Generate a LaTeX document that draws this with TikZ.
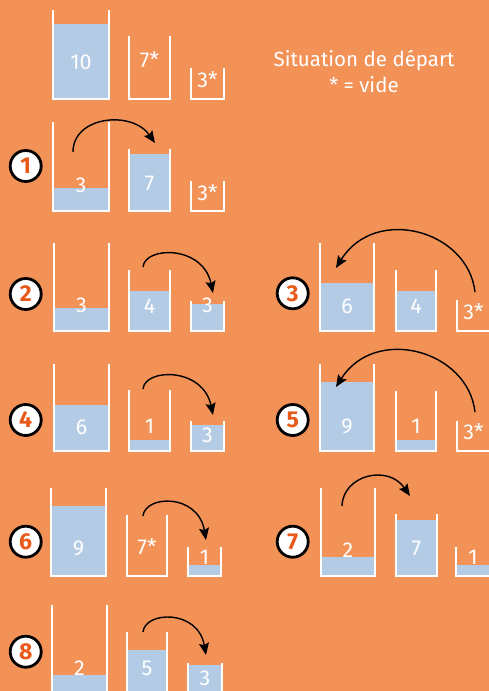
\documentclass[tikz,border=0pt]{standalone}
\usepackage{fontspec}
\setmainfont{Fira Sans}
\usepackage{tikz}
\usetikzlibrary{arrows.meta}
\definecolor{bgorange}{HTML}{F39257}
\definecolor{waterblue}{HTML}{B4CBE6}
\definecolor{steporange}{HTML}{E8591A}

\tikzset{
  wall/.style={white, line width=2.6pt},
  water/.style={fill=waterblue},
  num/.style={text=white, inner sep=0pt, font=\fontsize{21.5}{21.5}\selectfont},
  title/.style={text=white, inner sep=0pt, font=\fontsize{20.5}{20.5}\selectfont},
  stepno/.style={circle, draw=black, fill=white, line width=2.8pt, minimum size=31pt, inner sep=0pt,
    text=steporange, font=\bfseries\fontsize{23}{23}\selectfont},
  pour/.style={black, line width=1.4pt, -{Stealth[length=12pt,width=10pt,inset=2pt]}}
}

% jug: name, left, right, top, bottom, level, label y, label
\newcommand{\jug}[8]{%
  \fill[water] (#2,#6) rectangle (#3,#5);
  \draw[wall] (#2,#4) -- (#2,#5) -- (#3,#5) -- (#3,#4);
  \node[num] (#1) at ({(#2+#3)/2},#7) {#8};
}

\begin{document}
\begin{tikzpicture}[x=1pt, y=-1pt]
\useasboundingbox (0,0) rectangle (489,691);
\fill[bgorange] (0,0) rectangle (489,691);

% start
\jug{a1}{53}{109}{10}{99}{24}{62}{10}
\jug{a2}{129}{170}{36}{99}{99}{60}{7*}
\jug{a3}{191}{224}{68}{99}{99}{80}{3*}
\node[title, anchor=base] (title) at (364,66.7) {Situation de départ};
\node[title, anchor=base] (legend) at (364,92.3) {* = vide};

% step 1
\node[stepno] (s1) at (25.7,166) {1};
\jug{b1}{53}{109}{122}{211}{188}{185}{3}
\jug{b2}{129}{170}{149}{211}{154}{183}{7}
\jug{b3}{191}{224}{181}{211}{211}{193}{3*}
\coordinate (p1) at (73,152);
\coordinate (q1) at (155,143);
\draw[pour] (p1) .. controls (73,116) and (132,110) .. (q1);

% step 2
\node[stepno] (s2) at (25.7,294) {2};
\jug{c1}{54}{109}{243}{331}{308}{305}{3}
\jug{c2}{129}{170}{270}{331}{291}{306}{4}
\jug{c3}{191}{224}{301}{331}{304}{305}{3}
\coordinate (p2) at (143,267);
\coordinate (q2) at (213,293);
\draw[pour] (p2) .. controls (145,246) and (203,245) .. (q2);

% step 3
\node[stepno] (s3) at (292.7,293.3) {3};
\jug{d1}{320}{374}{243}{331}{283}{306}{6}
\jug{d2}{396}{436}{270}{331}{291}{306}{4}
\jug{d3}{457}{490}{300}{331}{331}{312}{3*}
\coordinate (p3) at (475,292);
\coordinate (q3) at (336,268);
\draw[pour] (p3) .. controls (468,230) and (375,205) .. (q3);

% step 4
\node[stepno] (s4) at (25.7,420) {4};
\jug{e1}{54}{109}{364}{451}{405}{427}{6}
\jug{e2}{129}{170}{390}{451}{440}{426}{1}
\jug{e3}{191}{224}{421}{451}{425}{435}{3}
\coordinate (p4) at (143,389);
\coordinate (q4) at (213,415);
\draw[pour] (p4) .. controls (145,368) and (203,367) .. (q4);

% step 5
\node[stepno] (s5) at (292.7,420) {5};
\jug{f1}{320}{374}{364}{451}{382}{426}{9}
\jug{f2}{396}{436}{391}{451}{440}{426}{1}
\jug{f3}{457}{490}{421}{451}{451}{432}{3*}
\coordinate (p5) at (475,412);
\coordinate (q5) at (336,387);
\draw[pour] (p5) .. controls (468,350) and (375,325) .. (q5);

% step 6
\node[stepno] (s6) at (25.7,541.7) {6};
\jug{g1}{51}{106}{488}{576}{506}{548}{9}
\jug{g2}{127}{167}{515}{576}{576}{547}{7*}
\jug{g3}{188}{221}{547}{576}{565}{557}{1}
\coordinate (p6) at (143,516);
\coordinate (q6) at (206,540);
\draw[pour] (p6) .. controls (145,495) and (198,493) .. (q6);

% step 7
\node[stepno] (s7) at (292.7,541.7) {7};
\jug{h1}{321}{375}{488}{576}{557}{550}{2}
\jug{h2}{396}{437}{514}{576}{520}{548}{7}
\jug{h3}{456}{490}{547}{576}{565}{557}{1}
\coordinate (p7) at (342,506);
\coordinate (q7) at (410,496);
\draw[pour] (p7) .. controls (343,475) and (388,464) .. (q7);

% step 8
\node[stepno] (s8) at (25.7,651.7) {8};
\jug{k1}{52}{107}{605}{694}{675}{668}{2}
\jug{k2}{127}{167}{632}{694}{650}{668}{5}
\jug{k3}{188}{222}{663}{694}{665}{678}{3}
\coordinate (p8) at (143,632);
\coordinate (q8) at (206,655);
\draw[pour] (p8) .. controls (145,611) and (198,609) .. (q8);
\end{tikzpicture}
\end{document}
